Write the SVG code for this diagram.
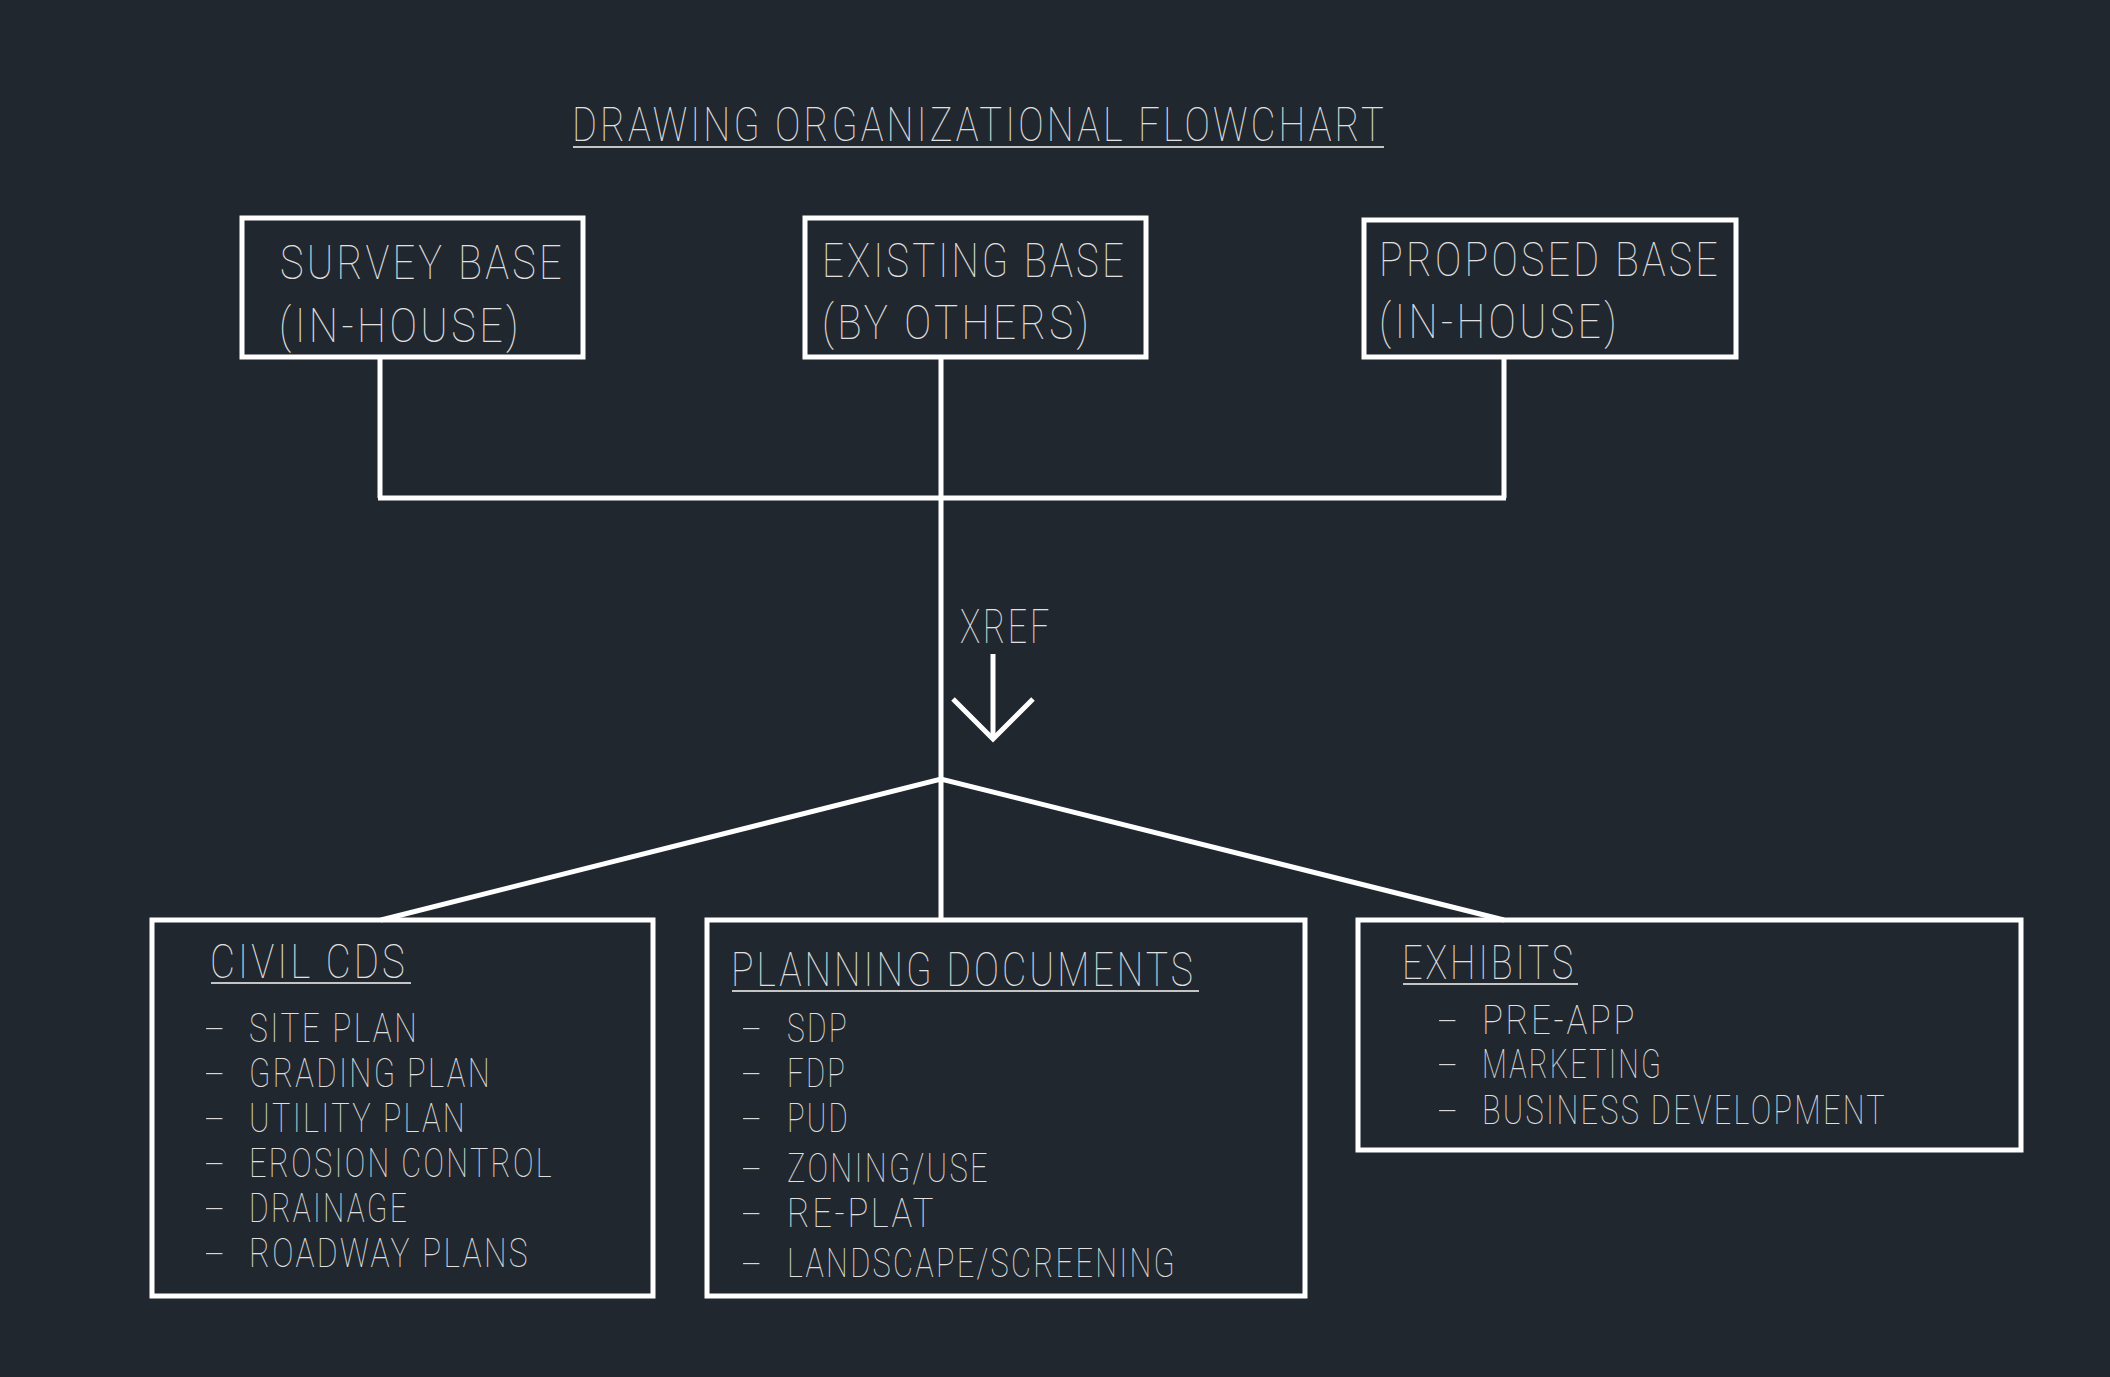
<svg xmlns="http://www.w3.org/2000/svg" width="2110" height="1377" viewBox="0 0 2110 1377">
<style>
.bg{fill:#21272f}
.box{fill:none;stroke:#ffffff;stroke-width:5}
.ln{fill:none;stroke:#ffffff;stroke-width:5;stroke-linecap:butt}
.t{font-family:Roboto,"Liberation Sans",sans-serif;font-weight:100;fill:#e0e0e0}
.big{font-size:49px;letter-spacing:4px}
.sm{font-size:40px;letter-spacing:3px}
.d{letter-spacing:0}
.ul{stroke:#c4c4c4;stroke-width:2}
</style>
<rect class="bg" x="0" y="0" width="2110" height="1377"/>

<g id="title">
<text class="t big" x="572" y="141" textLength="815" lengthAdjust="spacingAndGlyphs">DRAWING ORGANIZATIONAL FLOWCHART</text>
<line class="ul" x1="573" y1="147" x2="1384" y2="147"/>
</g>

<g id="connectors">
<line class="ln" x1="380" y1="357" x2="380" y2="498"/>
<line class="ln" x1="1504" y1="357" x2="1504" y2="498"/>
<line class="ln" x1="378" y1="498" x2="1506" y2="498"/>
<line class="ln" x1="941" y1="357" x2="941" y2="920"/>
<polyline class="ln" points="381,920 941,779 1504,920"/>
<line class="ln" x1="993" y1="654" x2="993" y2="737"/>
<polyline class="ln" points="953,699 993,739 1033,699"/>
<text class="t big" x="960" y="643" textLength="92" lengthAdjust="spacingAndGlyphs">XREF</text>
</g>

<g id="survey-base">
<rect class="box" x="242" y="218" width="341" height="139"/>
<text class="t big" x="280" y="279" textLength="285" lengthAdjust="spacingAndGlyphs">SURVEY BASE</text>
<text class="t big" x="279" y="342" textLength="243" lengthAdjust="spacingAndGlyphs">(IN-HOUSE)</text>
</g>

<g id="existing-base">
<rect class="box" x="805" y="218" width="341" height="139"/>
<text class="t big" x="822" y="277" textLength="305" lengthAdjust="spacingAndGlyphs">EXISTING BASE</text>
<text class="t big" x="822" y="339" textLength="270" lengthAdjust="spacingAndGlyphs">(BY OTHERS)</text>
</g>

<g id="proposed-base">
<rect class="box" x="1364" y="220" width="372" height="137"/>
<text class="t big" x="1379" y="276" textLength="342" lengthAdjust="spacingAndGlyphs">PROPOSED BASE</text>
<text class="t big" x="1379" y="338" textLength="241" lengthAdjust="spacingAndGlyphs">(IN-HOUSE)</text>
</g>

<g id="civil-cds">
<rect class="box" x="152" y="920" width="501" height="376"/>
<text class="t big" x="210" y="978" textLength="198" lengthAdjust="spacingAndGlyphs">CIVIL CDS</text>
<line class="ul" x1="211" y1="983" x2="411" y2="983"/>
<text class="t sm" y="1042"><tspan class="d" x="204" textLength="21" lengthAdjust="spacingAndGlyphs">-</tspan> <tspan x="249" textLength="170" lengthAdjust="spacingAndGlyphs">SITE PLAN</tspan></text>
<text class="t sm" y="1087"><tspan class="d" x="204" textLength="21" lengthAdjust="spacingAndGlyphs">-</tspan> <tspan x="249" textLength="243" lengthAdjust="spacingAndGlyphs">GRADING PLAN</tspan></text>
<text class="t sm" y="1132"><tspan class="d" x="204" textLength="21" lengthAdjust="spacingAndGlyphs">-</tspan> <tspan x="249" textLength="218" lengthAdjust="spacingAndGlyphs">UTILITY PLAN</tspan></text>
<text class="t sm" y="1177"><tspan class="d" x="204" textLength="21" lengthAdjust="spacingAndGlyphs">-</tspan> <tspan x="249" textLength="305" lengthAdjust="spacingAndGlyphs">EROSION CONTROL</tspan></text>
<text class="t sm" y="1222"><tspan class="d" x="204" textLength="21" lengthAdjust="spacingAndGlyphs">-</tspan> <tspan x="249" textLength="160" lengthAdjust="spacingAndGlyphs">DRAINAGE</tspan></text>
<text class="t sm" y="1267"><tspan class="d" x="204" textLength="21" lengthAdjust="spacingAndGlyphs">-</tspan> <tspan x="249" textLength="281" lengthAdjust="spacingAndGlyphs">ROADWAY PLANS</tspan></text>
</g>

<g id="planning-documents">
<rect class="box" x="707" y="920" width="598" height="376"/>
<text class="t big" x="731" y="986" textLength="465" lengthAdjust="spacingAndGlyphs">PLANNING DOCUMENTS</text>
<line class="ul" x1="732" y1="991" x2="1199" y2="991"/>
<text class="t sm" y="1042"><tspan class="d" x="741" textLength="21" lengthAdjust="spacingAndGlyphs">-</tspan> <tspan x="787" textLength="62" lengthAdjust="spacingAndGlyphs">SDP</tspan></text>
<text class="t sm" y="1087"><tspan class="d" x="741" textLength="21" lengthAdjust="spacingAndGlyphs">-</tspan> <tspan x="787" textLength="60" lengthAdjust="spacingAndGlyphs">FDP</tspan></text>
<text class="t sm" y="1132"><tspan class="d" x="741" textLength="21" lengthAdjust="spacingAndGlyphs">-</tspan> <tspan x="787" textLength="63" lengthAdjust="spacingAndGlyphs">PUD</tspan></text>
<text class="t sm" y="1182"><tspan class="d" x="741" textLength="21" lengthAdjust="spacingAndGlyphs">-</tspan> <tspan x="787" textLength="203" lengthAdjust="spacingAndGlyphs">ZONING/USE</tspan></text>
<text class="t sm" y="1227"><tspan class="d" x="741" textLength="21" lengthAdjust="spacingAndGlyphs">-</tspan> <tspan x="787" textLength="149" lengthAdjust="spacingAndGlyphs">RE-PLAT</tspan></text>
<text class="t sm" y="1277"><tspan class="d" x="741" textLength="21" lengthAdjust="spacingAndGlyphs">-</tspan> <tspan x="787" textLength="390" lengthAdjust="spacingAndGlyphs">LANDSCAPE/SCREENING</tspan></text>
</g>

<g id="exhibits">
<rect class="box" x="1358" y="920" width="663" height="230"/>
<text class="t big" x="1402" y="979" textLength="174" lengthAdjust="spacingAndGlyphs">EXHIBITS</text>
<line class="ul" x1="1403" y1="984" x2="1578" y2="984"/>
<text class="t sm" y="1034"><tspan class="d" x="1437" textLength="21" lengthAdjust="spacingAndGlyphs">-</tspan> <tspan x="1482" textLength="155" lengthAdjust="spacingAndGlyphs">PRE-APP</tspan></text>
<text class="t sm" y="1078"><tspan class="d" x="1437" textLength="21" lengthAdjust="spacingAndGlyphs">-</tspan> <tspan x="1482" textLength="181" lengthAdjust="spacingAndGlyphs">MARKETING</tspan></text>
<text class="t sm" y="1124"><tspan class="d" x="1437" textLength="21" lengthAdjust="spacingAndGlyphs">-</tspan> <tspan x="1482" textLength="405" lengthAdjust="spacingAndGlyphs">BUSINESS DEVELOPMENT</tspan></text>
</g>
</svg>
